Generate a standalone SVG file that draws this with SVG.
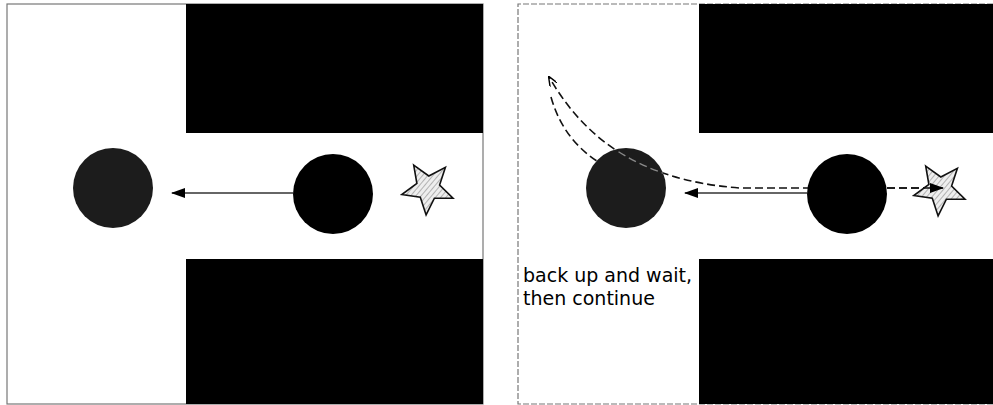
<svg xmlns="http://www.w3.org/2000/svg" width="993" height="405" viewBox="0 0 993 405">
<style>
.frame{fill:#fff;stroke:#777;stroke-width:1.2}
.wall{fill:#000}
.robot{fill:#000}
.robotg{fill:#1c1c1c}
.star{fill:url(#hatch);stroke:#111;stroke-width:1.6;stroke-linejoin:miter}
.arrow{fill:none;stroke:#333;stroke-width:1.6}
.dash{fill:none;stroke:#111;stroke-width:1.6;stroke-dasharray:8 4}
.label{font-family:"DejaVu Sans",sans-serif;font-size:19px;fill:#000}
</style>
<defs>
<pattern id="hatch" patternUnits="userSpaceOnUse" width="4" height="4" patternTransform="rotate(40)">
<rect width="4" height="4" fill="#eee"/>
<line x1="0" y1="0" x2="0" y2="4" stroke="#777" stroke-width="1"/>
</pattern>
<marker id="ah" markerWidth="14" markerHeight="10" refX="13" refY="5" orient="auto" markerUnits="userSpaceOnUse">
<path d="M0,0 L14,5 L0,10 z" fill="#000"/>
</marker>
<marker id="ahs" markerWidth="10" markerHeight="8" refX="9" refY="4" orient="auto" markerUnits="userSpaceOnUse">
<path d="M0,0 L10,4 L0,8" fill="none" stroke="#000" stroke-width="1.4"/>
</marker>
<clipPath id="cg"><circle cx="626" cy="188" r="40"/></clipPath>
</defs>

<g id="panel-left">
<rect class="frame" x="7" y="4" width="476" height="400"/>
<rect class="wall" x="186" y="4" width="297" height="129"/>
<rect class="wall" x="186" y="259" width="297" height="145"/>
</g>

<g id="panel-right">
<path d="M993,4 L518,4 L518,404 L993,404" fill="#fff" stroke="#777" stroke-width="1.2" stroke-dasharray="6 2"/>
<rect class="wall" x="699" y="4" width="294" height="129"/>
<rect class="wall" x="699" y="259" width="294" height="145"/>
</g>

<g id="connectors">
<line class="arrow" x1="293" y1="193" x2="172" y2="193" marker-end="url(#ah)"/>
<path class="dash" d="M551,97 Q563,140 600,163"/>
<path class="dash" d="M943,188 L740,188 C630,180 580,130 549,77" marker-end="url(#ahs)"/>
<line class="arrow" x1="807" y1="193" x2="685" y2="193" marker-end="url(#ah)"/>
</g>

<g id="robot-left-a"><circle class="robotg" cx="113" cy="188" r="40"/></g>
<g id="robot-left-b"><circle class="robot" cx="333" cy="194" r="40"/></g>
<g id="goal-left"><polygon class="star" points="413.7,165.1 428.8,176 445.4,167.3 439.6,185.1 453,198.1 434.4,198.2 426.1,214.9 420.3,197.2 401.8,194.5 416.9,183.5"/></g>

<g id="robot-right-a"><circle class="robotg" cx="626" cy="188" r="40"/>
<path d="M740,188 C630,180 580,130 549,77" fill="none" stroke="#888" stroke-width="1.4" stroke-dasharray="8 4" clip-path="url(#cg)"/></g>
<g id="robot-right-b"><circle class="robot" cx="847" cy="194" r="40"/></g>
<g id="goal-right"><polygon class="star" points="925.7,166.1 940.8,177 957.4,168.3 951.6,186.1 965,199.1 946.4,199.2 938.1,215.9 932.3,198.2 913.8,195.5 928.9,184.5"/>
<path d="M887,188 L943,188" class="dash" marker-end="url(#ah)"/></g>

<g id="label"><text class="label" x="523" y="282">back up and wait,</text><text class="label" x="523" y="305">then continue</text></g>
</svg>
